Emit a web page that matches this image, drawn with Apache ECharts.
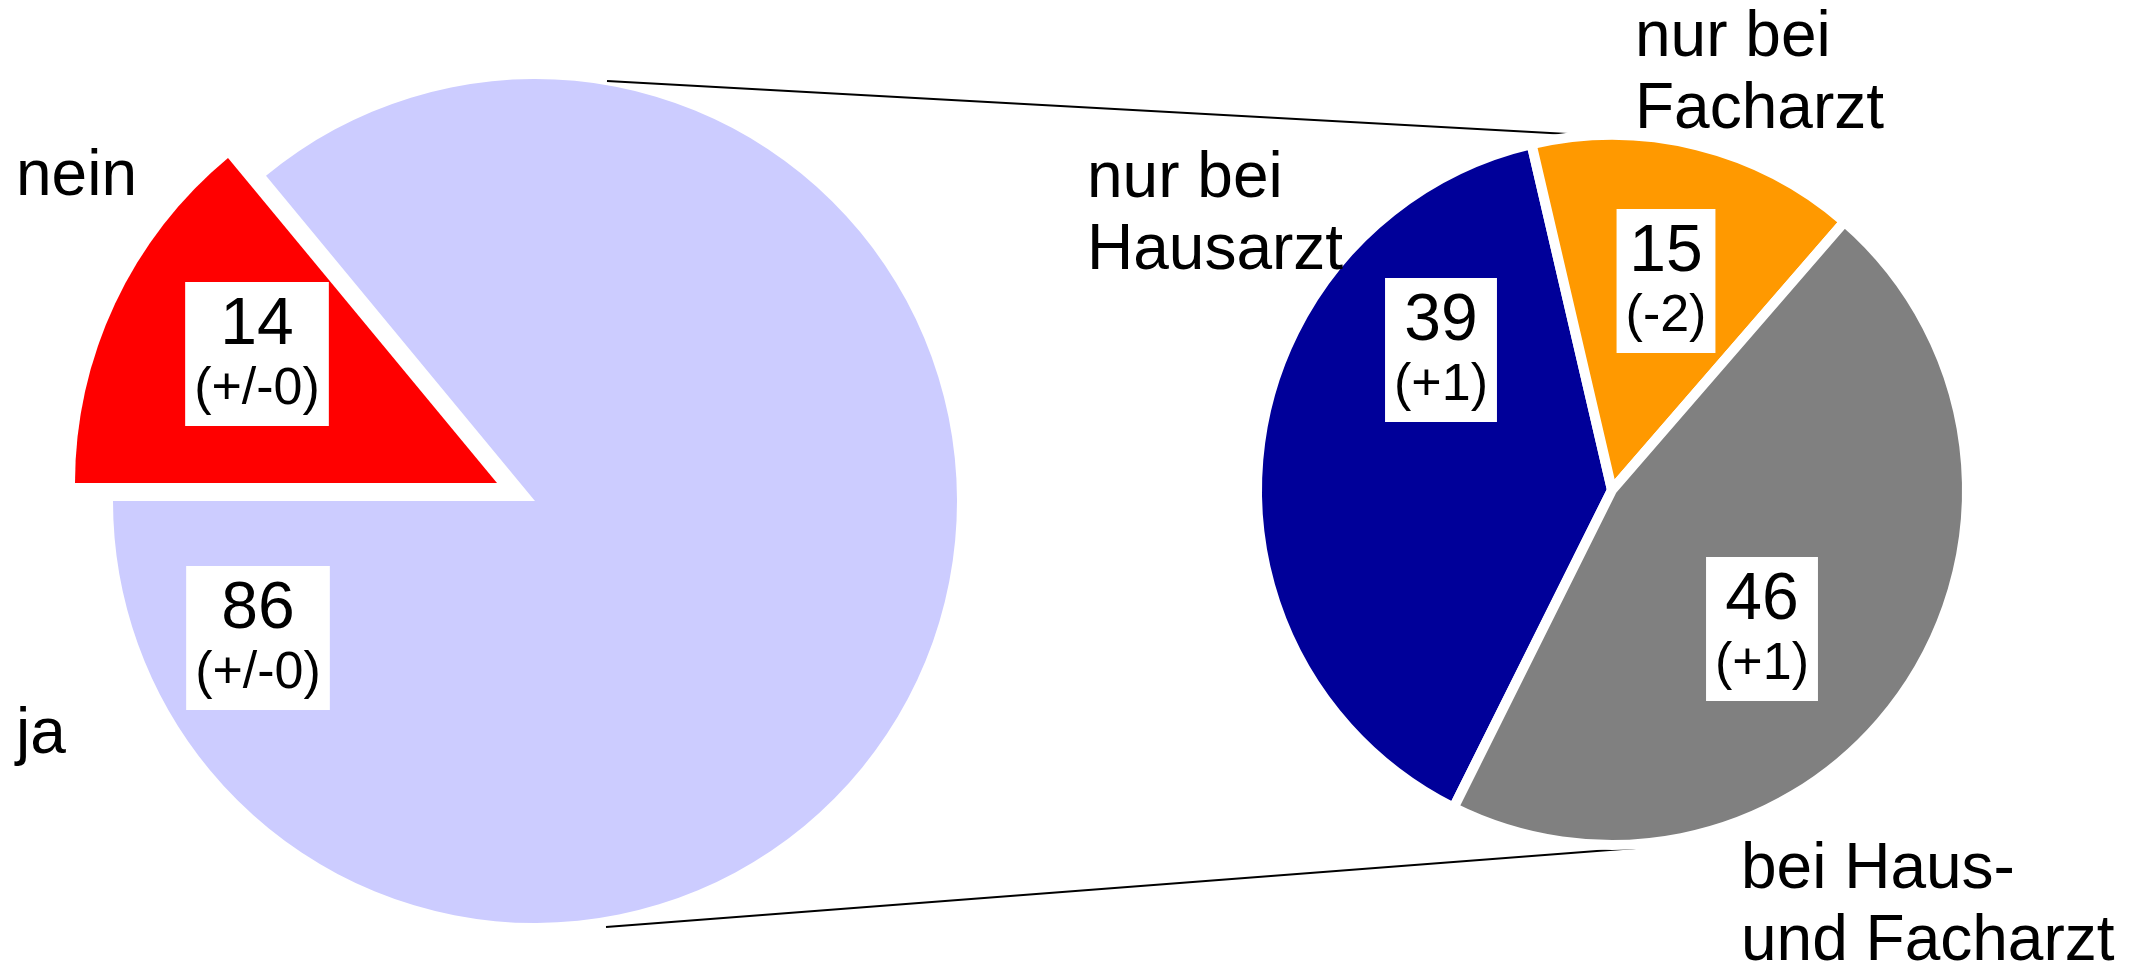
<!DOCTYPE html>
<html>
<head>
<meta charset="utf-8">
<title>Arztbesuch</title>
<script src="https://cdn.jsdelivr.net/npm/echarts@6/dist/echarts.min.js"></script>
<style>
  html, body { margin: 0; padding: 0; background: #fff; }
  #chart { width: 2136px; height: 969px; }
</style>
</head>
<body>
<div id="chart"></div>
<script>
// linke Torte: ja / nein
const leftNames = ['nein', 'ja']
const leftValues = [14, 86]
const leftChanges = ['(+/-0)', '(+/-0)']
const leftColors = ['#ff0000', '#ccccff']

// rechte Torte: Aufteilung
const rightNames = ['nur bei\nHausarzt', 'nur bei\nFacharzt', 'bei Haus-\nund Facharzt']
const rightValues = [39, 15, 46]
const rightChanges = ['(+1)', '(-2)', '(+1)']
const rightColors = ['#000099', '#ff9900', '#808080']

const FONT = '"Liberation Sans", Arial, sans-serif'

// Positionen der Beschriftungen (Pixel)
const leftValuePos = [[257, 354], [258, 638]]
const leftNamePos = [[16, 177], [16, 735]]
const rightValuePos = [[1441, 350], [1666, 281], [1762, 629]]
const rightNamePos = [[1087, 215], [1635, 74], [1741, 906]]

// "nein" ist herausgezogen: eigenes Zentrum, um 42px entlang der Winkelhalbierenden verschoben
const LEFT_CENTER = [535, 501]
const EXPLODE = 42
const halfAngle = (180 - leftValues[0] / 2 * 3.6) * Math.PI / 180
const NEIN_CENTER = [LEFT_CENTER[0] + EXPLODE * Math.cos(halfAngle), LEFT_CENTER[1] - EXPLODE * Math.sin(halfAngle)]

const chart = echarts.init(document.getElementById('chart'))

const valueLabel = changes => ({
  show: true,
  position: 'inside',
  formatter: p => '{v|' + p.value + '}\n{d|' + changes[p.dataIndex] + '}',
  backgroundColor: '#fff',
  padding: [8, 9, 8, 9],
  color: '#000',
  fontFamily: FONT,
  rich: {
    v: { fontSize: 66, lineHeight: 72, fontFamily: FONT, color: '#000', align: 'center' },
    d: { fontSize: 52, lineHeight: 56, fontFamily: FONT, color: '#000', align: 'center' }
  }
})

const nameLabel = {
  show: true,
  position: 'inside',
  formatter: '{b}',
  color: '#000',
  fontSize: 64,
  lineHeight: 72,
  fontFamily: FONT
}

const placeAt = (pos, align) => params => ({
  x: pos[params.dataIndex][0],
  y: pos[params.dataIndex][1],
  align: align,
  verticalAlign: 'middle'
})

const hidden = 'rgba(0,0,0,0)'

// nur ein Stück der linken Torte sichtbar, das andere transparent
const leftPart = (keep, center) => ({
  type: 'pie',
  center: center,
  radius: 422,
  startAngle: 180,
  avoidLabelOverlap: false,
  emphasis: { disabled: true },
  data: leftNames.map((n, i) => ({
    name: n, value: leftValues[i],
    itemStyle: { color: i === keep ? leftColors[i] : hidden },
    label: { show: i === keep }
  })),
  label: valueLabel(leftChanges),
  labelLine: { show: false },
  labelLayout: placeAt(leftValuePos, 'center')
})

const option = {
  animation: false,
  backgroundColor: '#fff',
  graphic: [
    { type: 'line', shape: { x1: 607, y1: 81, x2: 1568, y2: 134 }, style: { stroke: '#000', lineWidth: 2 } },
    { type: 'line', shape: { x1: 606, y1: 927, x2: 1636, y2: 848 }, style: { stroke: '#000', lineWidth: 2 } }
  ],
  series: [
    leftPart(1, LEFT_CENTER),
    leftPart(0, NEIN_CENTER),
    {
      type: 'pie',
      silent: true,
      center: LEFT_CENTER,
      radius: 422,
      startAngle: 180,
      avoidLabelOverlap: false,
      itemStyle: { color: hidden },
      data: leftNames.map((n, i) => ({ name: n, value: leftValues[i] })),
      label: nameLabel,
      labelLine: { show: false },
      labelLayout: placeAt(leftNamePos, 'left')
    },
    {
      type: 'pie',
      center: [1612, 490],
      radius: 355,
      startAngle: 243.5,
      avoidLabelOverlap: false,
      emphasis: { disabled: true },
      itemStyle: { borderColor: '#fff', borderWidth: 10 },
      data: rightNames.map((n, i) => ({
        name: n, value: rightValues[i],
        itemStyle: { color: rightColors[i] }
      })),
      label: valueLabel(rightChanges),
      labelLine: { show: false },
      labelLayout: placeAt(rightValuePos, 'center')
    },
    {
      type: 'pie',
      silent: true,
      center: [1612, 490],
      radius: 355,
      startAngle: 243.5,
      avoidLabelOverlap: false,
      itemStyle: { color: hidden },
      data: rightNames.map((n, i) => ({ name: n, value: rightValues[i] })),
      label: nameLabel,
      labelLine: { show: false },
      labelLayout: placeAt(rightNamePos, 'left')
    }
  ]
}

chart.setOption(option)
</script>
</body>
</html>
